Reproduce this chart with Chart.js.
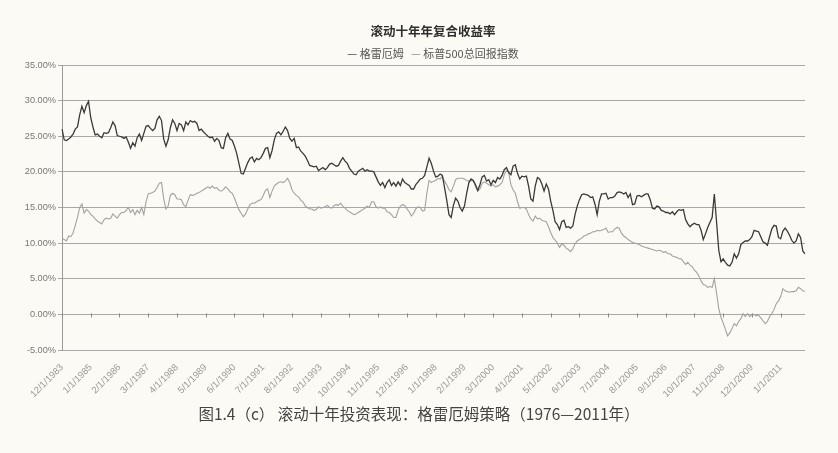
<!DOCTYPE html>
<html><head><meta charset="utf-8">
<script src="https://cdn.jsdelivr.net/npm/chart.js@4.4.0/dist/chart.umd.min.js"></script>
<style>
html,body{margin:0;padding:0;background:#fbfaf4;}
#wrap{position:relative;width:838px;height:453px;overflow:hidden;background:#fbfaf4;}
canvas{position:absolute;left:0;top:0;}
.t{position:absolute;left:0;width:838px;text-align:center;font-family:"Noto Sans CJK SC","Noto Sans",sans-serif;white-space:nowrap;}
</style></head>
<body><div id="wrap">
<canvas id="c" width="838" height="453"></canvas>
<div class="t" style="top:21px;left:14px;font-size:12.5px;font-weight:bold;color:#2e2e2e;">滚动十年年复合收益率</div>
<div class="t" style="top:45px;left:14px;font-size:11px;color:#555;"><span style="color:#333">—</span> 格雷厄姆 &nbsp; <span style="color:#888">—</span> 标普500总回报指数</div>
<div class="t" style="top:402px;left:0px;font-size:15.5px;color:#444;">图1.4（c） 滚动十年投资表现：格雷厄姆策略（1976—2011年）</div>
</div>
<script>
// categories: monthly, starting 12/1983
const startMonth = 12, startYear = 1983, monthCount = 337;
const categories = [];
for (let i = 0; i < monthCount; i++) {
  const mm = (startMonth - 1 + i) % 12 + 1;
  const yy = startYear + Math.floor((startMonth - 1 + i) / 12);
  categories.push(mm + '/1/' + yy);
}
const labelEvery = 13;
const yTicks = [-5, 0, 5, 10, 15, 20, 25, 30, 35];

const grahamReturns = [
26.0,24.5,24.4,24.6,24.9,25.3,26.0,26.3,28.0,29.2,
28.3,29.3,29.9,27.6,26.3,25.2,25.3,25.0,24.8,25.5,
25.4,25.5,26.2,27.0,26.5,25.1,25.0,24.9,24.7,24.9,
24.2,23.3,24.1,23.6,24.8,25.3,24.4,25.4,26.4,26.5,
26.1,25.8,26.1,27.3,27.8,27.2,24.6,23.6,24.5,26.2,
27.3,26.8,25.8,26.8,26.6,25.8,27.0,26.6,27.2,27.0,
27.1,26.8,25.8,26.0,25.6,25.3,25.0,24.8,24.9,24.3,
24.7,24.4,23.4,23.3,24.8,25.4,24.6,24.4,23.6,22.6,
21.2,19.8,19.7,20.5,21.3,21.9,22.1,21.4,21.9,21.7,
22.0,22.6,23.3,23.4,22.0,23.0,24.5,25.4,25.6,25.2,
25.7,26.3,25.8,24.7,24.3,24.7,23.4,23.5,22.9,22.6,
22.2,21.6,20.9,20.8,20.7,20.8,20.2,20.4,20.6,20.3,
20.6,21.1,21.2,21.0,20.8,20.9,21.5,22.0,21.5,21.2,
20.5,20.1,19.7,19.6,20.1,20.3,20.5,20.1,20.3,20.1,
20.1,20.0,19.3,18.6,18.1,18.5,17.8,18.5,18.9,18.1,
18.5,18.0,18.6,18.1,19.0,18.5,18.3,18.1,17.6,17.6,
18.2,18.6,19.0,19.1,19.5,20.7,21.9,21.2,20.1,19.3,
19.4,19.7,19.5,17.8,16.0,14.0,13.6,15.3,16.3,15.9,
15.0,14.5,15.2,17.0,18.5,19.0,18.8,18.2,17.4,18.2,
19.3,19.5,18.7,18.9,18.2,18.8,18.5,19.2,19.0,19.5,
20.3,20.6,19.9,19.6,20.8,21.0,19.8,19.0,19.4,19.3,
19.4,18.0,16.2,15.9,18.0,19.2,19.0,18.3,17.3,18.3,
17.6,15.9,14.6,13.0,12.6,11.9,13.0,13.2,12.2,12.3,
12.1,12.4,14.0,15.2,16.1,16.8,16.9,16.8,16.7,16.4,
16.5,15.5,14.0,15.9,16.9,16.9,17.0,16.2,16.4,16.4,
16.6,17.1,17.2,17.1,16.9,17.1,16.4,16.9,15.4,15.5,
16.6,16.7,16.5,16.7,16.9,16.9,16.1,14.9,14.8,15.2,
15.1,14.6,14.5,14.3,14.3,14.1,14.4,14.0,14.4,14.7,
14.6,14.7,13.3,12.7,12.3,12.6,12.8,12.6,12.6,11.8,
10.5,11.3,12.2,12.9,13.6,16.9,13.0,9.0,7.4,7.8,
7.3,6.9,6.8,7.3,8.5,7.9,8.5,9.8,10.1,10.3,
10.3,10.5,10.9,11.8,11.7,11.6,10.9,10.2,10.0,9.7,
10.9,12.0,12.5,12.4,10.8,10.6,11.7,12.1,11.7,11.1,
10.4,10.0,10.3,11.3,10.8,8.9,8.5
];

const sp500Returns = [
10.7,10.5,10.3,11.0,10.9,11.4,12.5,13.6,15.0,15.5,
14.2,14.7,14.5,14.0,13.8,13.4,13.1,12.9,12.7,13.3,
13.5,13.4,13.5,14.1,13.8,13.5,14.0,14.3,14.3,14.6,
15.0,14.3,14.7,14.0,14.6,14.2,15.0,14.0,15.8,16.9,
17.0,17.1,17.3,17.8,18.4,18.5,16.2,14.8,15.2,16.7,
17.0,16.8,16.2,16.2,16.1,15.4,15.1,16.0,16.8,16.7,
16.8,17.0,17.1,17.3,17.5,17.7,17.9,17.7,18.0,17.7,
17.8,17.4,17.3,17.5,17.9,17.6,17.2,17.0,16.3,15.5,
14.7,14.2,13.7,14.1,14.8,15.4,15.6,15.6,15.8,16.0,
16.1,16.7,17.4,17.6,16.4,17.3,18.0,18.3,18.5,18.6,
18.5,18.7,19.1,18.5,17.5,17.0,16.7,16.5,16.0,15.8,
15.2,15.0,14.8,14.8,14.6,14.7,15.1,14.9,15.0,15.1,
15.3,15.0,14.9,15.3,15.4,15.3,15.6,15.2,14.9,14.6,
14.4,14.2,14.0,14.1,14.3,14.5,14.7,14.9,15.2,15.0,
15.8,15.8,15.1,14.9,15.1,14.9,14.9,14.4,14.3,14.0,
13.6,13.6,14.6,15.2,15.4,15.3,14.8,14.4,13.8,14.2,
14.8,15.1,15.0,14.5,14.6,17.0,18.8,18.5,18.7,18.8,
19.1,19.0,19.4,18.7,18.2,17.5,17.2,18.0,18.9,19.1,
19.1,19.1,19.0,18.8,18.7,18.8,18.7,17.9,17.3,17.6,
18.4,18.6,18.4,18.2,18.0,18.2,17.9,18.0,18.2,18.5,
19.6,20.2,19.9,18.2,17.5,17.0,15.8,14.9,15.0,15.0,
14.8,14.0,13.4,13.1,13.8,13.4,13.5,13.2,13.1,13.0,
12.3,11.5,10.8,10.4,10.0,9.4,9.9,9.7,9.3,9.1,
8.8,9.2,9.9,10.3,10.5,10.7,11.0,11.1,11.3,11.4,
11.6,11.6,11.8,11.7,11.8,11.9,12.1,11.5,11.6,11.6,
12.0,12.2,12.1,11.4,11.0,10.8,10.5,10.3,10.1,10.0,
9.9,9.8,9.6,9.5,9.4,9.3,9.2,9.1,9.0,8.9,
9.0,8.9,8.7,8.8,8.5,8.5,8.2,8.1,8.0,7.8,
7.8,7.4,7.0,7.3,6.9,6.7,6.2,5.9,5.4,4.7,
4.2,4.1,3.8,3.9,3.8,5.0,3.0,0.8,-0.4,-1.2,
-2.1,-3.0,-2.6,-2.0,-1.3,-1.6,-1.0,-0.6,0.1,-0.3,
0.1,-0.3,-0.1,0.0,-0.2,-0.1,-0.5,-0.9,-1.3,-1.0,
-0.3,0.1,0.7,1.5,1.9,2.5,3.6,3.3,3.2,3.1,
3.2,3.2,3.3,3.8,3.6,3.3,3.2
];

const zeroTicks = {
  id: 'zeroTicks',
  afterDatasetsDraw(chart) {
    const x = chart.scales.x, y = chart.scales.y, ctx = chart.ctx;
    const y0 = y.getPixelForValue(0);
    ctx.save();
    ctx.strokeStyle = '#8a8a8a';
    ctx.lineWidth = 1;
    for (let i = 0; i < categories.length; i += labelEvery) {
      const px = Math.round(x.getPixelForValue(i)) + 0.5;
      ctx.beginPath(); ctx.moveTo(px, y0 - 1); ctx.lineTo(px, y0 + 3); ctx.stroke();
    }
    ctx.restore();
  }
};

new Chart(document.getElementById('c'), {
  type: 'line',
  data: {
    labels: categories,
    datasets: [
      { label: '格雷厄姆', data: grahamReturns, borderColor: '#3a3a3a', borderWidth: 1.3, pointRadius: 0, tension: 0, order: 0 },
      { label: '标普500总回报指数', data: sp500Returns, borderColor: '#a2a2a2', borderWidth: 1.1, pointRadius: 0, tension: 0, order: 1 }
    ]
  },
  options: {
    responsive: false,
    animation: false,
    devicePixelRatio: 1,
    layout: { padding: { top: 65, right: 33, left: 0, bottom: 0 } },
    plugins: { legend: { display: false }, title: { display: false }, tooltip: { enabled: false } },
    scales: {
      x: {
        type: 'category',
        offset: false,
        grid: { display: false },
        border: { display: false },
        afterBuildTicks(scale) { scale.ticks = scale.ticks.filter(t => t.value % labelEvery === 0); },
        afterFit(scale) { scale.height = 103; },
        ticks: {
          autoSkip: false, minRotation: 45, maxRotation: 45, padding: 4,
          color: '#999', font: { family: 'Liberation Sans', size: 9.5 },
          callback(v) { return categories[v]; }
        }
      },
      y: {
        min: -5, max: 35,
        afterBuildTicks(scale) { scale.ticks = yTicks.map(v => ({ value: v })); },
        afterFit(scale) { scale.width = 62; },
        grid: { color: '#a8a8a8', lineWidth: 1, drawTicks: true, tickLength: 4 },
        border: { display: true, color: '#9a9a9a' },
        ticks: {
          padding: 2, color: '#777', font: { family: 'Liberation Sans', size: 9.2 },
          callback(v) { return v.toFixed(2) + '%'; }
        }
      }
    }
  },
  plugins: [zeroTicks]
});
</script>
</body></html>
